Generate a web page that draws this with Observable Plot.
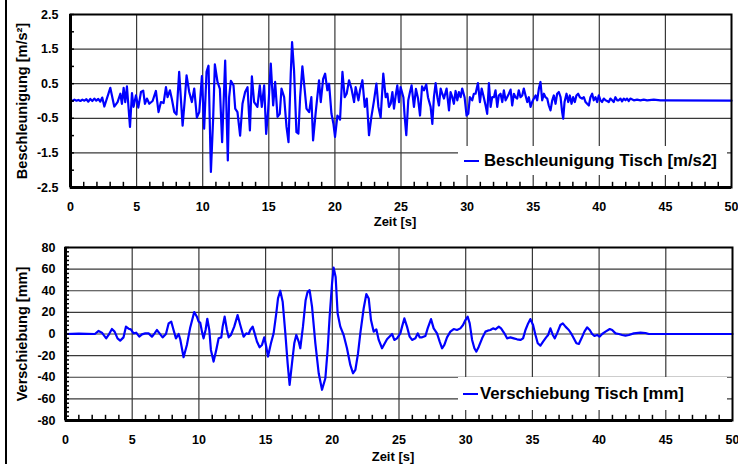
<!DOCTYPE html>
<html><head><meta charset="utf-8">
<script src="https://cdn.jsdelivr.net/npm/d3@7"></script>
<script src="https://cdn.jsdelivr.net/npm/@observablehq/plot@0.6"></script>
<style>
body{margin:0;background:#fff;}
#chart{position:relative;width:738px;height:464px;overflow:hidden;font-family:"Liberation Sans",Arial,sans-serif;}
#chart svg{position:absolute;left:0;}
#chart svg g[aria-label="x-axis tick label"], #chart svg g[aria-label="y-axis tick label"]{font-size:12.5px !important;font-weight:bold !important;}
#chart svg g.xlab{font-size:13px !important;font-weight:bold !important;}
#chart svg g.ylab{font-size:14.5px !important;font-weight:bold !important;}
.border{position:absolute;left:5px;top:0;width:1.5px;height:464px;background:#000;}
.legend{position:absolute;background:#fff;display:flex;align-items:center;font-weight:bold;font-size:16.8px;color:#000;white-space:nowrap;box-sizing:border-box;}
.legend .swatch{display:inline-block;width:15px;height:2px;background:#0000ff;}
</style></head>
<body>
<div id="chart"><div class="border"></div></div>
<script>
// ---- data ----
const timeTicks = [0, 5, 10, 15, 20, 25, 30, 35, 40, 45, 50];
const accTicks = [-2.5, -1.5, -0.5, 0.5, 1.5, 2.5];
const dispTicks = [-80, -60, -40, -20, 0, 20, 40, 60, 80];
const xLabel = "Zeit [s]";
const accLabel = "Beschleunigung [m/s²]";
const dispLabel = "Verschiebung [mm]";
const accLegend = "Beschleunigung Tisch [m/s2]";
const dispLegend = "Verschiebung Tisch [mm]";

// acceleration of the table [time s, m/s²]
const accSamples = [
[0,0.02],[0.15,0.0],[0.3,0.04],[0.45,0.01],[0.6,0.03],[0.75,0.0],[0.9,0.04],[1.05,0.01],[1.2,0.05],[1.35,-0.02],[1.5,0.06],[1.65,0.0],[1.8,0.07],[1.95,0.01],[2.1,0.06],[2.25,-0.02],[2.4,0.1],
[2.56,-0.16],[3.01,0.38],[3.31,-0.16],[3.56,-0.03],[3.77,0.21],[3.89,-0.08],[4.02,0.38],[4.14,-0.03],[4.27,0.42],[4.5,-0.75],[4.65,0.23],[4.77,-0.17],[4.95,0.16],[5.13,-0.19],[5.33,0.26],[5.5,0.3],[5.63,-0.08],[5.78,0.07],[5.96,-0.08],[6.21,0.0],[6.46,0.29],[6.66,-0.32],[6.84,-0.03],[7.04,-0.06],[7.22,0.4],[7.34,0.11],[7.52,0.31],[7.67,0.05],[7.85,-0.32],[8.02,-0.39],
[8.22,0.84],[8.48,-0.71],[8.65,0.07],[8.78,0.74],[8.98,0.26],[9.18,-0.03],[9.36,0.36],[9.56,-0.48],[9.74,-0.32],[9.94,0.72],[10.11,-0.8],[10.29,0.84],[10.44,1.02],[10.62,-2.05],[10.79,-0.51],[10.92,1.06],[11.12,0.55],[11.3,0.35],[11.47,-1.19],[11.7,1.17],[11.9,-1.72],[12.0,0.11],[12.13,0.58],[12.33,0.45],[12.46,-0.22],[12.63,-0.32],[12.83,-1.0],[13.01,-0.08],[13.21,0.26],[13.39,0.4],[13.57,-0.85],[13.72,0.71],[13.89,-0.03],[14.14,-0.17],[14.32,0.45],[14.47,-0.17],[14.65,0.45],[14.8,-0.95],[14.95,-0.27],
[15.15,1.08],[15.33,-0.13],[15.48,0.55],[15.66,-0.46],[15.83,-0.37],[15.96,0.36],[16.16,0.11],[16.34,-0.75],[16.49,-1.19],[16.66,0.79],[16.76,1.7],[16.91,0.88],[17.09,-0.9],[17.24,-0.94],[17.37,0.11],[17.54,1.0],[17.72,0.31],[17.85,-0.22],[18.05,-0.32],[18.22,0.11],[18.35,-1.14],[18.55,-0.32],[18.8,0.6],[18.93,-0.03],[19.11,0.64],[19.26,0.79],[19.43,0.31],[19.56,0.5],[19.74,-0.37],[19.89,-0.66],[20.01,-1.04],[20.19,-0.42],[20.39,-0.54],[20.57,0.84],[20.74,0.11],[20.89,0.21],[21.07,0.6],[21.25,0.36],[21.45,-0.03],[21.57,0.4],[21.78,0.02],[21.9,0.31],[22.08,0.6],[22.26,-0.17],[22.41,0.07],[22.58,-0.99],[22.76,-0.46],[22.96,0.02],[23.14,0.5],[23.29,-0.17],[23.46,-0.48],[23.66,0.79],
[23.84,0.11],[23.97,0.21],[24.09,-0.17],[24.22,-0.08],[24.35,0.26],[24.47,-0.22],[24.6,0.16],[24.72,0.45],[24.85,-0.03],[24.97,0.4],[25.18,0.11],[25.28,-0.46],[25.4,-0.99],[25.55,0.02],[25.68,0.26],[25.8,0.45],[25.98,-0.17],[26.13,0.35],[26.29,0.07],[26.44,-0.42],[26.59,0.42],[26.74,0.31],[26.91,0.48],[27.04,0.11],[27.24,-0.17],[27.37,-0.66],[27.49,0.11],[27.62,0.52],[27.75,0.11],[27.87,-0.13],[28.0,0.36],[28.12,0.21],[28.25,0.07],[28.45,0.36],[28.63,-0.27],[28.75,0.26],[28.88,0.11],[29.0,-0.08],[29.13,0.29],[29.26,0.02],[29.38,0.26],[29.51,0.11],[29.63,0.36],[29.81,0.11],[29.96,-0.42],[30.09,-0.37],[30.21,0.11],[30.39,0.02],[30.51,0.21],[30.64,0.21],[30.82,0.52],[30.97,-0.03],[31.1,0.36],[31.23,0.16],[31.4,-0.13],[31.52,-0.37],[31.65,0.52],[31.78,-0.17],[31.9,0.11],[32.03,0.11],[32.15,0.31],[32.28,-0.17],[32.4,0.16],[32.53,0.21],[32.66,-0.03],[32.78,0.31],[32.91,0.02],[33.03,0.11],[33.16,0.21],[33.29,0.33],[33.41,-0.13],[33.54,0.21],[33.66,0.11],[33.79,0.07],[33.91,0.31],[34.04,0.11],[34.17,0.16],[34.29,0.36],[34.42,0.16],[34.55,-0.03],[34.67,0.11],[34.8,-0.17],[34.92,-0.03],
[35.05,0.07],[35.18,0.16],[35.3,0.02],[35.43,0.36],[35.55,0.55],[35.68,0.02],[35.81,0.21],[35.93,0.11],[36.06,0.07],[36.18,-0.13],[36.31,-0.27],[36.44,0.02],[36.56,0.16],[36.69,-0.08],[36.81,0.21],[36.94,0.26],[37.07,0.11],[37.19,-0.32],[37.27,-0.51],[37.37,-0.03],[37.52,0.21],[37.65,-0.03],[37.77,0.16],[37.9,-0.08],[38.02,0.11],[38.15,-0.03],[38.27,0.16],[38.4,0.21],[38.53,0.11],[38.7,0.07],[38.83,0.11],[38.96,-0.03],[39.08,-0.08],[39.21,-0.13],[39.33,0.11],[39.46,0.21],[39.58,0.02],[39.71,0.11],[39.84,-0.03],[39.96,0.16],[40.09,0.02],[40.21,-0.03],[40.34,0.07],[40.47,0.02],[40.59,0.0],[40.72,-0.03],[40.84,0.07],[40.97,0.02],[41.09,-0.03],[41.22,0.11],[41.35,0.02],[41.47,0.02],[41.6,0.07],[41.72,-0.01],[41.85,0.07],[41.98,0.02],[42.1,0.07],[42.23,0.0],[42.35,0.07],[42.61,0.02],[42.86,0.04],[43.11,0.02],[43.36,0.04],[43.62,0.02],[44.12,0.04],[44.62,0.02],[44.88,0.02],[50,0.01]
];

// displacement of the table [time s, mm]
const dispSamples = [
[0,0],[1.0,0.3],[2.2,0],[2.48,2.8],[2.73,1.2],[3.05,-4.0],[3.23,-0.9],[3.48,4.6],[3.68,2.2],[3.9,-4.0],[4.1,-6.1],[4.35,-3.1],[4.53,6.8],[4.73,4.9],[4.9,4.3],[5.1,0.6],[5.3,1.2],[5.53,-2.5],[5.73,-0.3],[5.98,0.6],[6.23,0.6],[6.48,-2.5],[6.68,0.6],[6.85,3.7],[7.05,0.6],[7.28,-3.1],[7.53,0],[7.73,9.8],[7.93,11.4],[8.1,3.7],[8.28,-4.0],[8.48,0],[8.6,-4.9],[8.85,-21.5],[9.1,-10.1],[9.35,6.1],[9.65,20.3],[9.85,16.0],[9.98,11.4],[10.1,10.4],[10.23,2.2],[10.35,-4.0],[10.5,3.7],[10.63,14.1],[10.78,3.7],[10.9,-14.7],[11.1,-25.5],[11.3,-14.7],[11.48,-4.0],[11.68,-3.1],[11.78,6.8],[11.93,16.0],[12.1,3.7],[12.23,-3.1],[12.4,-0.9],[12.65,6.8],[12.9,17.5],[13.1,8.3],[13.35,-2.5],[13.55,0.6],[13.73,0],[13.85,3.7],[14.03,6.8],[14.18,0.6],[14.35,-7.0],[14.55,-12.3],[14.73,-10.1],[14.9,-3.1],[15.05,-11.7],[15.18,-20.9],[15.4,-8.6],[15.6,0.6],[15.8,19.0],[15.93,32.9],[16.1,40.0],[16.28,29.8],[16.48,0.6],[16.65,-27.0],[16.8,-47.0],[16.98,-27.0],[17.15,-8.6],[17.3,-0.9],[17.48,-7.0],[17.6,-13.2],[17.8,6.8],[18.0,31.3],[18.15,39.0],[18.3,40.6],[18.48,25.3],[18.73,-8.6],[18.98,-36.3],[19.23,-51.6],[19.48,-40.9],[19.65,-14.7],[19.8,16.0],[19.98,46.7],[20.1,61.4],[20.25,52.8],[20.4,19.0],[20.6,6.8],[20.85,-0.9],[21.1,-13.2],[21.35,-28.6],[21.55,-36.3],[21.73,-33.2],[21.93,-17.8],[22.1,0.6],[22.35,23.6],[22.55,36.9],[22.73,32.9],[22.9,12.9],[23.1,2.2],[23.3,4.3],[23.48,-5.5],[23.73,-13.2],
[24.1,-4.9],[24.48,0],[24.65,-5.5],[24.85,-4.0],[25.1,0.6],[25.23,6.8],[25.4,14.4],[25.6,6.8],[25.8,-2.5],[25.98,-5.5],[26.23,-4.0],[26.4,0.6],[26.55,-3.1],[26.73,-3.1],[26.98,-1.8],[27.15,5.2],[27.4,13.8],[27.6,5.2],[27.85,0.6],[28.05,-7.0],[28.23,-13.2],[28.4,-10.1],[28.6,-3.1],[28.85,2.2],[29.1,4.6],[29.35,3.7],[29.6,5.2],[29.8,8.3],[29.98,12.9],[30.15,16.0],[30.3,9.8],[30.48,-5.5],[30.65,-13.2],[30.8,-16.3],[30.98,-11.7],[31.23,-4.0],[31.48,2.2],[31.65,3.1],[31.85,3.7],[32.05,5.2],[32.23,4.3],[32.48,6.8],[32.65,5.2],[32.9,0.6],[33.1,-4.0],[33.35,-3.1],[33.6,-4.0],[33.85,-4.9],[34.1,-5.5],[34.3,-4.0],[34.48,3.7],[34.68,9.8],[34.85,13.8],[35.05,8.3],[35.23,-0.9],[35.4,-8.6],[35.6,-10.8],[35.8,-7.0],[36.03,-3.1],[36.18,-0.9],[36.35,5.2],[36.53,-0.9],[36.68,-4.0],[36.85,0.6],[37.1,8.3],[37.28,9.8],[37.48,6.8],[37.73,3.7],[37.9,0.6],[38.1,-4.0],[38.3,-8.6],[38.48,-9.2],[38.68,-4.0],[38.9,2.2],[39.1,6.1],[39.3,3.7],[39.48,0],[39.65,-1.8],[39.85,-0.9],[40.03,-2.5],[40.23,0],[40.48,2.2],[40.8,4.6],[40.98,3.7],[41.23,0.6],[41.48,0],[41.73,-0.9],[41.98,-1.5],[42.23,-0.9],[42.6,0.6],[43.1,1.2],[43.48,0.9],[43.73,0],[44.1,0],[50,0]
];

// ---- drawing ----
const FONT = "Liberation Sans, Arial, Helvetica, sans-serif";
function panel({samples, yDomain, yTicks, yMinorStep, yLabel, top, mL, mR, mT, mB, yPad, yLabelDx, xLabelDy}) {
  const [y0, y1] = yDomain;
  const span = y1 - y0;
  const xMinor = d3.range(1, 50, 1).filter(d => d % 5 !== 0);
  const yMinor = d3.range(y0, y1 + 1e-9, yMinorStep).map(d => +d.toFixed(4));
  const xGrid = timeTicks.slice(1, -1);
  const yGrid = yTicks.slice(1, -1);
  const svg = Plot.plot({
    width: 738, height: 232,
    marginLeft: mL, marginRight: mR, marginTop: mT, marginBottom: mB,
    style: {fontFamily: FONT, background: "transparent", overflow: "visible", color: "#000"},
    x: {domain: [0, 50]},
    y: {domain: yDomain},
    marks: [
      Plot.ruleX(xGrid, {stroke: "#383838", strokeWidth: 1.2}),
      Plot.ruleY(yGrid, {stroke: "#383838", strokeWidth: 1.2}),
      Plot.line(samples, {x: d => d[0], y: d => d[1], stroke: "#0000ff", strokeWidth: 2.2, strokeLinejoin: "round"}),
      Plot.ruleX(xMinor, {y1: y0, y2: y0 + span * 0.03, stroke: "#000", strokeWidth: 1.5}),
      Plot.ruleY(yMinor, {x1: 0, x2: 0.3, stroke: "#000", strokeWidth: 1.5}),
      Plot.frame({stroke: "#000", strokeWidth: 2}),
      Plot.ruleX([0], {stroke: "#000", strokeWidth: 3}),
      Plot.ruleY([y0], {stroke: "#000", strokeWidth: 3}),
      Plot.axisX({ticks: timeTicks, tickSize: 0, tickPadding: 15, tickFormat: d => String(d), fontSize: 12.5, fontWeight: "bold", label: null}),
      Plot.axisY({ticks: yTicks, tickSize: 0, tickPadding: yPad, tickFormat: d => String(d), fontSize: 12.5, fontWeight: "bold", label: null}),
      Plot.text([xLabel], {frameAnchor: "bottom", textAnchor: "middle", lineAnchor: "middle", dy: xLabelDy, dx: -6, text: d => d, fontSize: 13, fontWeight: "bold", className: "xlab"}),
      Plot.text([yLabel], {frameAnchor: "left", textAnchor: "middle", lineAnchor: "middle", dx: yLabelDx, rotate: -90, text: d => d, fontSize: 14.5, fontWeight: "bold", className: "ylab"})
    ]
  });
  svg.style.top = top + "px";
  return svg;
}

const chart = document.getElementById("chart");
chart.appendChild(panel({samples: accSamples, yDomain: [-2.5, 2.5], yTicks: accTicks, yMinorStep: 0.5, yLabel: accLabel,
  top: 0, mL: 70, mR: 7, mT: 14, mB: 45, yPad: 12, yLabelDx: -48, xLabelDy: 34}));
chart.appendChild(panel({samples: dispSamples, yDomain: [-80, 80], yTicks: dispTicks, yMinorStep: 4, yLabel: dispLabel,
  top: 232, mL: 65, mR: 6, mT: 15, mB: 44, yPad: 10, yLabelDx: -43, xLabelDy: 36}));

function legend(text, left, top, width, height, padLeft, gap) {
  const div = document.createElement("div");
  div.className = "legend";
  Object.assign(div.style, {left: left + "px", top: top + "px", width: width + "px", height: height + "px", paddingLeft: padLeft + "px"});
  const sw = document.createElement("span");
  sw.className = "swatch";
  sw.style.marginRight = gap + "px";
  const tx = document.createElement("span");
  tx.textContent = text;
  div.appendChild(sw); div.appendChild(tx);
  chart.appendChild(div);
}
legend(accLegend, 458, 146, 269, 29, 6, 5);
legend(dispLegend, 458, 377, 269, 33, 5, 2);
</script>
</body></html>
